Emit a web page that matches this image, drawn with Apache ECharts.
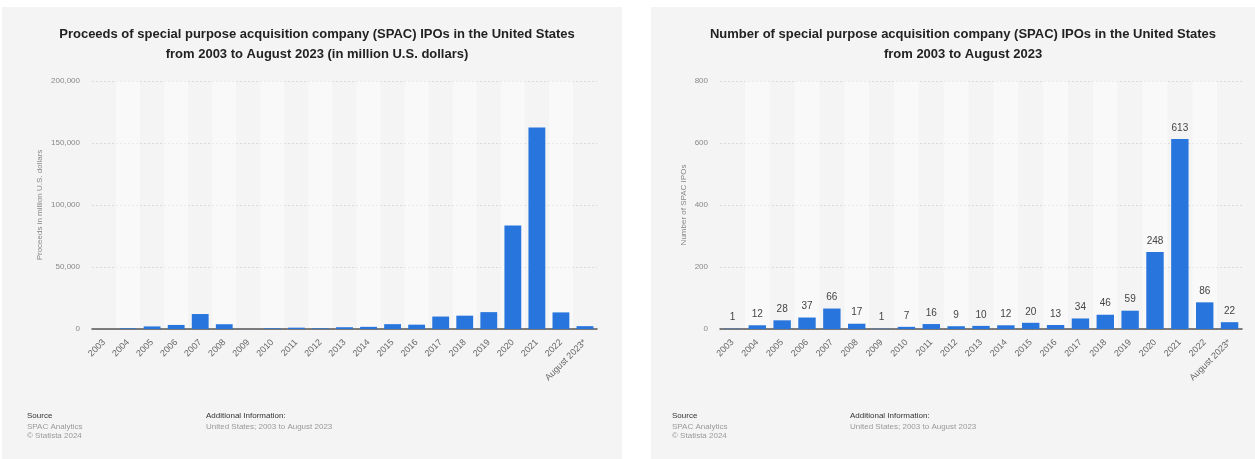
<!DOCTYPE html>
<html>
<head>
<meta charset="utf-8">
<script src="https://cdn.jsdelivr.net/npm/echarts@6/dist/echarts.min.js"></script>
<style>
  html, body { margin: 0; padding: 0; background: #fff; }
  #chart { width: 1255px; height: 459px; }
</style>
</head>
<body>
<div id="chart"></div>
<script>
// years shown on both charts
var years = ['2003', '2004', '2005', '2006', '2007', '2008', '2009', '2010', '2011', '2012',
    '2013', '2014', '2015', '2016', '2017', '2018', '2019', '2020', '2021', '2022', 'August 2023*'];

// proceeds in million U.S. dollars
var proceeds = [0, 485, 2076, 3274, 12070, 3842, 36, 503, 1082, 491,
    1447, 1750, 3902, 3499, 10048, 10752, 13608, 83379, 162498, 13391, 2300];

// number of SPAC IPOs
var counts = [1, 12, 28, 37, 66, 17, 1, 7, 16, 9, 10, 12, 20, 13, 34, 46, 59, 248, 613, 86, 22];

var proceedsTicks = [0, 50000, 100000, 150000, 200000];
var countTicks = [0, 200, 400, 600, 800];

var blue = '#2876dd';
var font = 'Liberation Sans, Arial, sans-serif';

function xAxisOpt(gridIndex) {
    return {
        type: 'category',
        gridIndex: gridIndex,
        data: years,
        axisTick: { show: false },
        axisLine: { lineStyle: { color: '#555', width: 1.5 } },
        axisLabel: { rotate: 45, color: '#666', fontSize: 9, fontFamily: font, margin: 12, interval: 0 },
        splitArea: { show: true, areaStyle: { color: ['rgba(0,0,0,0)', 'rgba(255,255,255,0.45)'] } }
    };
}

function yAxisOpt(gridIndex, max, interval, name, fmt) {
    return {
        type: 'value',
        gridIndex: gridIndex,
        min: 0,
        max: max,
        interval: interval,
        name: name,
        nameLocation: 'middle',
        nameGap: gridIndex === 0 ? 48 : 32,
        nameTextStyle: { color: '#888', fontSize: 8, fontFamily: font },
        axisLine: { show: false },
        axisTick: { show: false },
        axisLabel: { color: '#888', fontSize: 8, fontFamily: font, margin: 12, formatter: fmt },
        splitLine: { lineStyle: { color: '#dadada', type: [2, 2] } }
    };
}

function smallText(x, y, text, color) {
    return {
        type: 'text', left: x, top: y,
        style: { text: text, fill: color, fontSize: 8, fontFamily: font }
    };
}

var chart = echarts.init(document.getElementById('chart'));

var option = {
    animation: false,
    backgroundColor: '#fff',
    graphic: [
        { type: 'rect', z: -10, shape: { x: 2, y: 7, width: 620, height: 452 }, style: { fill: '#f4f4f4' } },
        { type: 'rect', z: -10, shape: { x: 651, y: 7, width: 604, height: 452 }, style: { fill: '#f4f4f4' } },
        smallText(27, 412, 'Source', '#333'),
        smallText(27, 423, 'SPAC Analytics', '#999'),
        smallText(27, 432, '\u00a9 Statista 2024', '#999'),
        smallText(206, 412, 'Additional Information:', '#333'),
        smallText(206, 423, 'United States; 2003 to August 2023', '#999'),
        smallText(672, 412, 'Source', '#333'),
        smallText(672, 423, 'SPAC Analytics', '#999'),
        smallText(672, 432, '\u00a9 Statista 2024', '#999'),
        smallText(850, 412, 'Additional Information:', '#333'),
        smallText(850, 423, 'United States; 2003 to August 2023', '#999')
    ],
    title: [{
        text: 'Proceeds of special purpose acquisition company (SPAC) IPOs in the United States\nfrom 2003 to August 2023 (in million U.S. dollars)',
        left: 312, top: 19, textAlign: 'center',
        textStyle: { fontSize: 13, fontWeight: 'bold', color: '#222', fontFamily: font, lineHeight: 20 }
    }, {
        text: 'Number of special purpose acquisition company (SPAC) IPOs in the United States\nfrom 2003 to August 2023',
        left: 958, top: 19, textAlign: 'center',
        textStyle: { fontSize: 13, fontWeight: 'bold', color: '#222', fontFamily: font, lineHeight: 20 }
    }],
    grid: [
        { left: 92, right: 658, top: 81, bottom: 130 },
        { left: 720, right: 13, top: 81, bottom: 130 }
    ],
    xAxis: [xAxisOpt(0), xAxisOpt(1)],
    yAxis: [
        yAxisOpt(0, proceedsTicks[proceedsTicks.length - 1], proceedsTicks[1], 'Proceeds in million U.S. dollars',
            function (v) { return v.toLocaleString('en-US'); }),
        yAxisOpt(1, countTicks[countTicks.length - 1], countTicks[1], 'Number of SPAC IPOs',
            function (v) { return String(v); })
    ],
    series: [{
        type: 'bar',
        xAxisIndex: 0, yAxisIndex: 0,
        data: proceeds,
        barCategoryGap: '30%',
        itemStyle: { color: blue }
    }, {
        type: 'bar',
        xAxisIndex: 1, yAxisIndex: 1,
        data: counts,
        barCategoryGap: '30%',
        itemStyle: { color: blue },
        label: { show: true, position: 'top', distance: 6, color: '#444', fontSize: 10, fontFamily: font }
    }]
};

chart.setOption(option);
</script>
</body>
</html>
